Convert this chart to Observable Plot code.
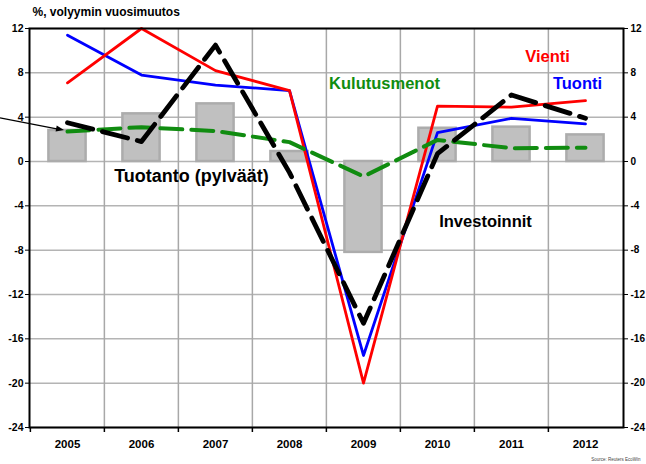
<!DOCTYPE html>
<html><head><meta charset="utf-8">
<script src="https://cdn.jsdelivr.net/npm/d3@7"></script>
<script src="https://cdn.jsdelivr.net/npm/@observablehq/plot@0.6"></script>
<style>
body{margin:0;background:#fff;}
svg{font-family:"Liberation Sans",Arial,sans-serif;}
</style>
</head><body><div id="chart"></div>
<script>
const years = ["2005","2006","2007","2008","2009","2010","2011","2012"];
const tuotanto = [2.8, 4.3, 5.2, 0.9, -8.2, 3.0, 3.1, 2.4];
const vienti = [7.1, 12.0, 8.2, 6.4, -20.0, 5.0, 4.9, 5.5];
const tuonti = [11.4, 7.8, 6.9, 6.4, -17.5, 2.6, 3.9, 3.4];
const investoinnit = [3.5, 1.8, 10.5, -1.0, -14.6, 0.7, 6.0, 3.9];
const kulutusmenot = [2.7, 3.1, 2.75, 1.75, -1.35, 1.95, 1.2, 1.25];
const yTicks = [12, 8, 4, 0, -4, -8, -12, -16, -20, -24];
const titleText = "%, volyymin vuosimuutos";
const sourceText = "Source: Reuters EcoWin";
const seriesLabels = ["Vienti", "Tuonti", "Kulutusmenot", "Tuotanto (pylväät)", "Investoinnit"];

const W = 646, H = 464, ML = 29, MR = 23, MT = 28, MB = 37;
const bw = (W - ML - MR) / years.length;
const rows = vals => years.map((year, i) => ({year, value: vals[i]}));
const hyphenFmt = d => String(d);

// annotation placement (styles/positions kept out of data arrays)
const labelSpecs = [
  {text: seriesLabels[0], x: "2011", dx: 36, y: 9.45, fill: "#ff0000", size: 16.5},
  {text: seriesLabels[1], x: "2011", dx: 66, y: 7.05, fill: "#0000ff", size: 16.5},
  {text: seriesLabels[2], x: "2009", dx: 21, y: 7.05, fill: "#108c10", size: 16.5},
  {text: seriesLabels[3], x: "2006", dx: 50, y: -1.35, fill: "#000000", size: 18},
  {text: seriesLabels[4], x: "2010", dx: 48, y: -5.4, fill: "#000000", size: 16.5}
];

function pointerArrow(index, scales) {
  const x = scales.x, y = scales.y;
  const off = x.bandwidth ? x.bandwidth() / 2 : 0;
  const tx = x(years[0]) + off - 3, ty = y(kulutusmenot[0]) - 1;
  const sx = 0, sy = y(3.9);
  const g = d3.create("svg:g");
  g.append("line").attr("x1", sx).attr("y1", sy).attr("x2", tx - 6).attr("y2", ty - 1)
    .attr("stroke", "black").attr("stroke-width", 1.2);
  const ang = Math.atan2(ty - sy, tx - sx);
  const L = 8, Wd = 3;
  const p1 = [tx - L * Math.cos(ang) + Wd * Math.sin(ang), ty - L * Math.sin(ang) - Wd * Math.cos(ang)];
  const p2 = [tx - L * Math.cos(ang) - Wd * Math.sin(ang), ty - L * Math.sin(ang) + Wd * Math.cos(ang)];
  g.append("path").attr("d", `M${tx},${ty}L${p1}L${p2}Z`).attr("fill", "black");
  return g.node();
}

const labelMarks = labelSpecs.map(s =>
  Plot.text([s], {x: "x", y: "y", dx: s.dx, text: "text", fill: s.fill, fontSize: s.size, fontWeight: "bold"})
);

const chart = Plot.plot({
  width: W, height: H,
  marginLeft: ML, marginRight: MR, marginTop: MT, marginBottom: MB,
  x: {type: "band", domain: years, padding: 0},
  y: {domain: [-24, 12]},
  style: {fontFamily: "Liberation Sans, Arial, sans-serif", background: "#fff"},
  marks: [
    Plot.gridY(yTicks, {stroke: "#b4b4b4", strokeOpacity: 1, strokeWidth: 1.5}),
    Plot.ruleX(years.slice(1), {x: d => d, dx: -bw / 2, stroke: "#a8a8a8", strokeWidth: 1.5}),
    Plot.barY(rows(tuotanto), {x: "year", y: "value", fill: "#c0c0c0", stroke: "#acacac", strokeWidth: 2.5, insetLeft: 18.4, insetRight: 18.4}),
    Plot.ruleY([0], {x1: years[0], x2: years[years.length - 1], stroke: "#555", strokeWidth: 2}),
    Plot.line(rows(tuonti), {x: "year", y: "value", stroke: "#0000ff", strokeWidth: 2.8}),
    Plot.line(rows(vienti), {x: "year", y: "value", stroke: "#ff0000", strokeWidth: 2.8}),
    Plot.line(rows(kulutusmenot), {x: "year", y: "value", stroke: "#108c10", strokeWidth: 4, strokeDasharray: "22,9"}),
    Plot.line(rows(investoinnit), {x: "year", y: "value", stroke: "#000", strokeWidth: 4.8, strokeDasharray: "26,10"}),
    pointerArrow,
    Plot.frame({stroke: "#000", strokeWidth: 2}),
    Plot.axisY(yTicks, {anchor: "left", tickSize: 4, tickPadding: 2, fontSize: 10.5, fontWeight: "bold", label: null, tickFormat: hyphenFmt}),
    Plot.axisY(yTicks, {anchor: "right", tickSize: 4, tickPadding: 3, fontSize: 10, fontWeight: "bold", label: null, tickFormat: hyphenFmt}),
    Plot.axisX({tickSize: 5, text: null, dx: -bw / 2, label: null, strokeWidth: 1.5}),
    Plot.axisX({tickSize: 0, tickPadding: 12, fontSize: 11.5, fontWeight: "bold", label: null}),
    ...labelMarks,
    Plot.text([titleText], {frameAnchor: "top-left", dx: 3, dy: -16, textAnchor: "start", lineAnchor: "middle", fontSize: 12, fontWeight: "bold"}),
    Plot.text([sourceText], {frameAnchor: "bottom-right", dx: 17, dy: 33, textAnchor: "end", fontSize: 4.5, fill: "#444"})
  ]
});
document.getElementById("chart").appendChild(chart);
</script>
</body></html>
